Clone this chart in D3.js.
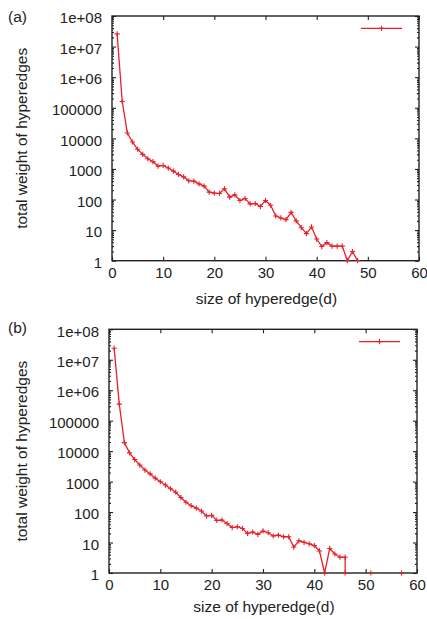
<!DOCTYPE html>
<html>
<head>
<meta charset="utf-8">
<script src="https://cdn.jsdelivr.net/npm/d3@7"></script>
<style>
  body { margin: 0; background: #fff; }
  text { font-family: "Liberation Sans", Arial, Helvetica, sans-serif; }
</style>
</head>
<body>
<div id="canvas"></div>
<script>
// panel (a)
const sizesA = [1, 2, 3, 4, 5, 6, 7, 8, 9, 10, 11, 12, 13, 14, 15, 16, 17, 18, 19, 20,
  21, 22, 23, 24, 25, 26, 27, 28, 29, 30, 31, 32, 33, 34, 35, 36, 37, 38, 39, 40,
  41, 42, 43, 44, 45, 46, 47, 48];
const weightsA = [2.6e7, 1.6e5, 15000, 7600, 4400, 3000, 2150, 1730, 1240, 1300,
  1070, 850, 660, 550, 410, 400, 325, 275, 175, 162,
  158, 225, 120, 142, 93, 108, 72, 74, 59, 93,
  65, 29, 25, 22, 38, 20, 12, 7.7, 12.7, 5.1,
  2.9, 3.9, 3, 3, 3, 1, 2, 1];

// panel (b) - null = gap in the line
const sizesB = [1, 2, 3, 4, 5, 6, 7, 8, 9, 10, 11, 12, 13, 14, 15, 16, 17, 18, 19, 20,
  21, 22, 23, 24, 25, 26, 27, 28, 29, 30, 31, 32, 33, 34, 35, 36, 37, 38, 39, 40,
  41, 42, 43, 44, 45, 46, 46, 47, 48, 49, 50, 51, 52, 53, 54, 55, 56, 57];
const weightsB = [2.4e7, 3.5e5, 19000, 8800, 5300, 3500, 2400, 1800, 1300, 990,
  770, 580, 450, 300, 210, 162, 135, 108, 74, 78,
  53, 55, 42, 31, 33, 29, 20, 22, 18.6, 24,
  21, 16.4, 17.6, 15.5, 15.5, 7.1, 11.4, 10.1, 9.1, 7.9,
  5.3, 1, 6.4, 4.2, 3.3, 3.3, 1, null, null, null, null, 1, null, null, null, null, null, 1];

const yTickValues = [1, 10, 100, 1000, 10000, 100000, 1e6, 1e7, 1e8];
const yTickLabels = ["1", "10", "100", "1000", "10000", "100000", "1e+06", "1e+07", "1e+08"];
const xTickValues = [0, 10, 20, 30, 40, 50, 60];
const xTitle = "size of hyperedge(d)";
const yTitle = "total weight of hyperedges";

let width = 427;
let height = 619;
let red = "#e8202a";

let svg = d3.select("#canvas")
  .append("svg")
  .attr("width", width)
  .attr("height", height);

let panels = [
  { label: "(a)", sizes: sizesA, weights: weightsA, left: 112, right: 419, top: 16, bottom: 260.7, labelY: 22, titleY: 303.5 },
  { label: "(b)", sizes: sizesB, weights: weightsB, left: 109, right: 417, top: 329.3, bottom: 573, labelY: 332.5, titleY: 611.5 }
];

// log minor tick positions 2..9 per decade
let minorTicks = [];
yTickValues.slice(0, -1).forEach(v => {
  for (let m = 2; m < 10; m++) minorTicks.push(v * m);
});

let plus = "M-2.6,0H2.6M0,-2.6V2.6";

function styleAxis(g) {
  g.select(".domain").remove();
  g.attr("font-size", 15).attr("font-family", null);
  g.selectAll("line").attr("stroke", "#222").attr("stroke-width", 1.1);
  g.selectAll("text").attr("fill", "#222");
}

panels.forEach(p => {
  let g = svg.append("g");

  let escalaX = d3.scaleLinear().domain([0, 60]).range([p.left, p.right]);
  let escalaY = d3.scaleLog().domain([1, 1e8]).range([p.bottom, p.top]);

  // y axis, left with labels
  g.append("g")
    .attr("transform", "translate(" + p.left + ",0)")
    .call(d3.axisLeft(escalaY).tickValues(yTickValues).tickSize(-4).tickPadding(10)
      .tickFormat((d, i) => yTickLabels[i]))
    .call(styleAxis)
    .selectAll("text").attr("dy", "0.45em");
  g.append("g")
    .attr("transform", "translate(" + p.left + ",0)")
    .call(d3.axisLeft(escalaY).tickValues(minorTicks).tickSize(-2).tickFormat(""))
    .call(styleAxis);
  // y mirror
  g.append("g")
    .attr("transform", "translate(" + p.right + ",0)")
    .call(d3.axisRight(escalaY).tickValues(yTickValues).tickSize(-4).tickFormat(""))
    .call(styleAxis);
  g.append("g")
    .attr("transform", "translate(" + p.right + ",0)")
    .call(d3.axisRight(escalaY).tickValues(minorTicks).tickSize(-2).tickFormat(""))
    .call(styleAxis);

  // x axis
  g.append("g")
    .attr("transform", "translate(0," + p.bottom + ")")
    .call(d3.axisBottom(escalaX).tickValues(xTickValues).tickSize(-4).tickPadding(6.5))
    .call(styleAxis);
  g.append("g")
    .attr("transform", "translate(0," + p.top + ")")
    .call(d3.axisTop(escalaX).tickValues(xTickValues).tickSize(-4).tickFormat(""))
    .call(styleAxis);

  // frame
  g.append("rect")
    .attr("x", p.left).attr("y", p.top)
    .attr("width", p.right - p.left).attr("height", p.bottom - p.top)
    .attr("fill", "none").attr("stroke", "#222").attr("stroke-width", 1.4);

  // titles
  g.append("text")
    .attr("x", (p.left + p.right) / 2 + 1)
    .attr("y", p.titleY)
    .attr("text-anchor", "middle")
    .attr("font-size", 15.5)
    .attr("fill", "#222")
    .text(xTitle);
  g.append("text")
    .attr("transform", "translate(27," + ((p.top + p.bottom) / 2) + ") rotate(-90)")
    .attr("text-anchor", "middle")
    .attr("font-size", 15.5)
    .attr("fill", "#222")
    .text(yTitle);
  g.append("text")
    .attr("x", 8)
    .attr("y", p.labelY)
    .attr("font-size", 15.5)
    .attr("fill", "#222")
    .text(p.label);

  // data
  let points = p.sizes.map((s, j) => ({ s: s, w: p.weights[j] }));
  let linea = d3.line()
    .defined(d => d.w != null)
    .x(d => escalaX(d.s))
    .y(d => escalaY(d.w));

  g.append("path")
    .datum(points)
    .attr("d", linea)
    .attr("fill", "none")
    .attr("stroke", red)
    .attr("stroke-width", 1.3);

  g.selectAll(".pt")
    .data(points.filter(d => d.w != null))
    .enter()
    .append("path")
    .attr("class", "pt")
    .attr("transform", d => "translate(" + escalaX(d.s) + "," + escalaY(d.w) + ")")
    .attr("d", plus)
    .attr("stroke", red)
    .attr("stroke-width", 1.1);

  // legend (no title)
  let ly = p.top + 12.3;
  g.append("line")
    .attr("x1", p.right - 58).attr("x2", p.right - 17)
    .attr("y1", ly).attr("y2", ly)
    .attr("stroke", red).attr("stroke-width", 1.3);
  g.append("path")
    .attr("transform", "translate(" + (p.right - 37.5) + "," + ly + ")")
    .attr("d", plus)
    .attr("stroke", red)
    .attr("stroke-width", 1.1);
});
</script>
</body>
</html>
